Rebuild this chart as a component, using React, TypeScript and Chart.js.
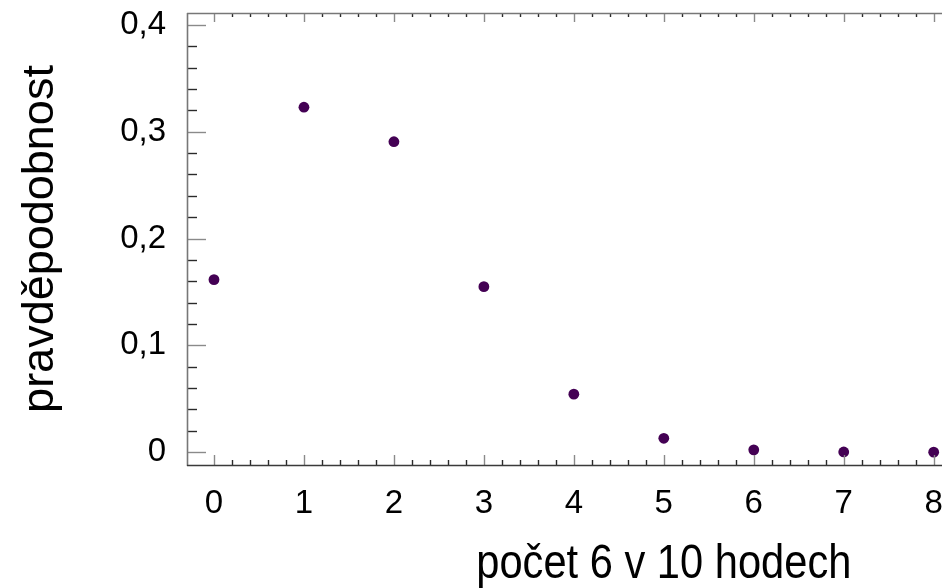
import React, { useEffect, useRef } from "react";
import { Chart, registerables } from "chart.js";

Chart.register(...registerables);

// data: počet šestek k v 10 hodech
const kValues = [0, 1, 2, 3, 4, 5, 6, 7, 8];
const probabilities = [0.1615, 0.323, 0.2907, 0.155, 0.0543, 0.013, 0.0022, 0.0002, 0.00002];

const xTickValues = [0, 1, 2, 3, 4, 5, 6, 7, 8, 9, 10];
const xTickLabels = ["0", "1", "2", "3", "4", "5", "6", "7", "8", "9", "10"];
const yTickValues = [0, 0.1, 0.2, 0.3, 0.4];
const yTickLabels = ["0", "0,1", "0,2", "0,3", "0,4"];

const xTitle = "počet 6 v 10 hodech";
const yTitle = "pravděpodobnost";

const FONT = "'Liberation Sans', Arial, sans-serif";

const frameTicks = {
  id: "frameTicks",
  afterDraw(chart: any) {
    const { ctx, chartArea } = chart;
    const xs = chart.scales.x;
    const ys = chart.scales.y;
    const { left, right, top, bottom } = chartArea;
    ctx.save();
    const line = (x1: number, y1: number, x2: number, y2: number, color: string, w: number) => {
      ctx.beginPath();
      ctx.strokeStyle = color;
      ctx.lineWidth = w;
      ctx.moveTo(x1, y1);
      ctx.lineTo(x2, y2);
      ctx.stroke();
    };
    const majorC = "#8a8a8a";
    const minorC = "#2a2a2a";
    for (let i = 0; i <= 20; i++) {
      const v = i * 0.02;
      const y = Math.round(ys.getPixelForValue(v)) + 0.5;
      const major = i % 5 === 0;
      line(left, y, left + (major ? 19 : 10), y, major ? majorC : minorC, 1.4);
      line(right, y, right - (major ? 19 : 10), y, major ? majorC : minorC, 1.4);
    }
    for (let i = 0; i <= 50; i++) {
      const v = i * 0.2;
      const x = Math.round(xs.getPixelForValue(v)) + 0.5;
      const major = i % 5 === 0;
      line(x, bottom, x, bottom - (major ? 10 : 5), major ? majorC : minorC, 1.4);
      line(x, top, x, top + (major ? 9 : 4), major ? majorC : minorC, 1.4);
    }
    const fc = "#3a3a3a";
    line(left + 0.5, top, left + 0.5, bottom + 1, "#777", 1.6);
    line(left, top + 0.5, right, top + 0.5, "#777", 1.6);
    line(left, bottom + 0.5, right, bottom + 0.5, fc, 1.6);
    line(right - 0.5, top, right - 0.5, bottom, fc, 1.6);

    // x-axis title (condensed Arial-like)
    const cx = (xs.left + xs.right) / 2;
    ctx.font = `49px ${FONT}`;
    ctx.fillStyle = "#000";
    ctx.textAlign = "center";
    ctx.textBaseline = "alphabetic";
    ctx.translate(cx, 578);
    ctx.scale(0.85, 1);
    ctx.fillText(xTitle, 0, 0);
    ctx.restore();
  },
};

export default function App() {
  const ref = useRef<HTMLCanvasElement | null>(null);
  useEffect(() => {
    document.body.style.margin = "0";
    const canvas = ref.current!;
    const chart = new Chart(canvas, {
      type: "scatter",
      data: {
        datasets: [
          {
            data: kValues.map((k, i) => ({ x: k, y: probabilities[i] })),
            backgroundColor: "#440154",
            borderColor: "#440154",
            borderWidth: 0,
            pointRadius: 5.4,
          },
        ],
      },
      options: {
        animation: false,
        responsive: false,
        devicePixelRatio: 1,
        layout: { padding: { top: 13, right: 0, left: 0, bottom: 0 } },
        plugins: { legend: { display: false }, tooltip: { enabled: false } },
        scales: {
          x: {
            type: "linear",
            min: -0.3,
            max: 10.3,
            grid: { display: false, drawTicks: false },
            border: { display: false },
            afterBuildTicks: (s: any) => {
              s.ticks = xTickValues.map((v) => ({ value: v }));
            },
            afterFit: (s: any) => {
              s.height = 123;
              s.paddingLeft = 0;
              s.paddingRight = 0;
            },
            ticks: {
              autoSkip: false,
              maxRotation: 0,
              padding: 19,
              color: "#000",
              font: { family: FONT, size: 33 },
              callback: (v: any) => {
                const i = xTickValues.indexOf(Number(v));
                return i >= 0 ? xTickLabels[i] : "";
              },
            },
            title: { display: false, text: xTitle },
          },
          y: {
            type: "linear",
            min: -0.012,
            max: 0.4112,
            grid: { display: false, drawTicks: false },
            border: { display: false },
            afterBuildTicks: (s: any) => {
              s.ticks = yTickValues.map((v) => ({ value: v }));
            },
            afterFit: (s: any) => {
              s.width = 187;
              s.paddingTop = 0;
              s.paddingBottom = 0;
            },
            ticks: {
              autoSkip: false,
              padding: 21,
              color: "#000",
              font: { family: FONT, size: 33 },
              callback: (v: any) => {
                const i = yTickValues.findIndex((t) => Math.abs(t - Number(v)) < 1e-9);
                return i >= 0 ? yTickLabels[i] : "";
              },
            },
            title: {
              display: true,
              text: yTitle,
              color: "#000",
              font: { family: FONT, size: 45, lineHeight: 1.2 },
              padding: { top: 14, bottom: 0 },
            },
          },
        },
      },
      plugins: [frameTicks],
    });
    return () => chart.destroy();
  }, []);
  return (
    <div style={{ position: "absolute", left: 0, top: 0, width: 942, height: 588, overflow: "hidden", background: "#fff" }}>
      <canvas ref={ref} width={1146} height={588} style={{ width: 1146, height: 588, display: "block" }} />
    </div>
  );
}
